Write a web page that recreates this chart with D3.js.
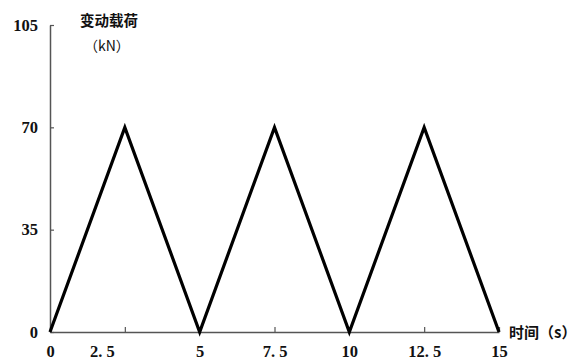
<!DOCTYPE html>
<html>
<head>
<meta charset="utf-8">
<script src="https://cdn.jsdelivr.net/npm/d3@7"></script>
<style>
body { margin: 0; background: #fff; }
</style>
</head>
<body>
<svg id="viz" width="585" height="360"></svg>
<script>
// time (s) and load (kN) at the corners of the triangle wave
var times = [0, 2.5, 5, 7.5, 10, 12.5, 15];
var loads = [0, 70, 0, 70, 0, 70, 0];
var xTicks = [0, 2.5, 5, 7.5, 10, 12.5, 15];
var xTickLabels = ["0", "2. 5", "5", "7. 5", "10", "12. 5", "15"];
var yTicks = [0, 35, 70, 105];

var numFont = "'Liberation Serif', 'DejaVu Serif', serif";
var cjkFont = "'Noto Sans CJK SC', sans-serif";

var svg = d3.select("#viz");

var x = d3.scaleLinear().domain([0, 15]).range([50, 499]);
var y = d3.scaleLinear().domain([0, 105]).range([332, 25]);

var styleNums = function(sel){
    sel.style("font-family", numFont)
        .style("font-weight", "bold")
        .style("font-size", "16.5px")
        .attr("fill", "#111");
};

// x axis, ticks pointing up, labels below
var xAxis = svg.append("g")
    .attr("transform", "translate(0," + y(0) + ")")
    .call(d3.axisBottom(x).tickValues(xTicks).tickSizeInner(-5).tickSizeOuter(0)
        .tickFormat(function(d, i){ return xTickLabels[i]; }));
xAxis.select(".domain").attr("stroke", "#555").attr("stroke-width", 1.5);
xAxis.selectAll(".tick line").attr("stroke", "#555").attr("stroke-width", 1.2);
xAxis.selectAll(".tick text").attr("y", 13).attr("dy", "0.71em").call(styleNums)
    // the 2.5 label sits left of its tick in the original
    .attr("dx", function(d){ return d === 2.5 ? -23 : 0; });

// y axis, ticks pointing right, labels left
var yAxis = svg.append("g")
    .attr("transform", "translate(" + x(0) + ",0)")
    .call(d3.axisLeft(y).tickValues(yTicks).tickSizeInner(-4).tickSizeOuter(0));
yAxis.select(".domain").attr("stroke", "#555").attr("stroke-width", 1.5);
yAxis.selectAll(".tick line").attr("stroke", "#555").attr("stroke-width", 1.2);
yAxis.selectAll(".tick text").attr("x", -12).call(styleNums);

// load line
var line = d3.line()
    .x(function(d, i){ return x(times[i]); })
    .y(function(d){ return y(d); });

svg.append("path")
    .datum(loads)
    .attr("d", line)
    .attr("fill", "none")
    .attr("stroke", "#000")
    .attr("stroke-width", 3.2)
    .attr("stroke-linejoin", "miter");

// axis titles
var title = function(tx, ty, txt, weight, size){
    svg.append("text")
        .attr("x", tx).attr("y", ty)
        .style("font-family", cjkFont)
        .style("font-weight", weight)
        .style("font-size", size)
        .attr("fill", "#111")
        .text(txt);
};
title(80, 26, "变动载荷", "bold", "14.5px");
title(84, 51, "（kN）", "normal", "14px");
title(509, 338, "时间（s）", "bold", "15px");
</script>
</body>
</html>
